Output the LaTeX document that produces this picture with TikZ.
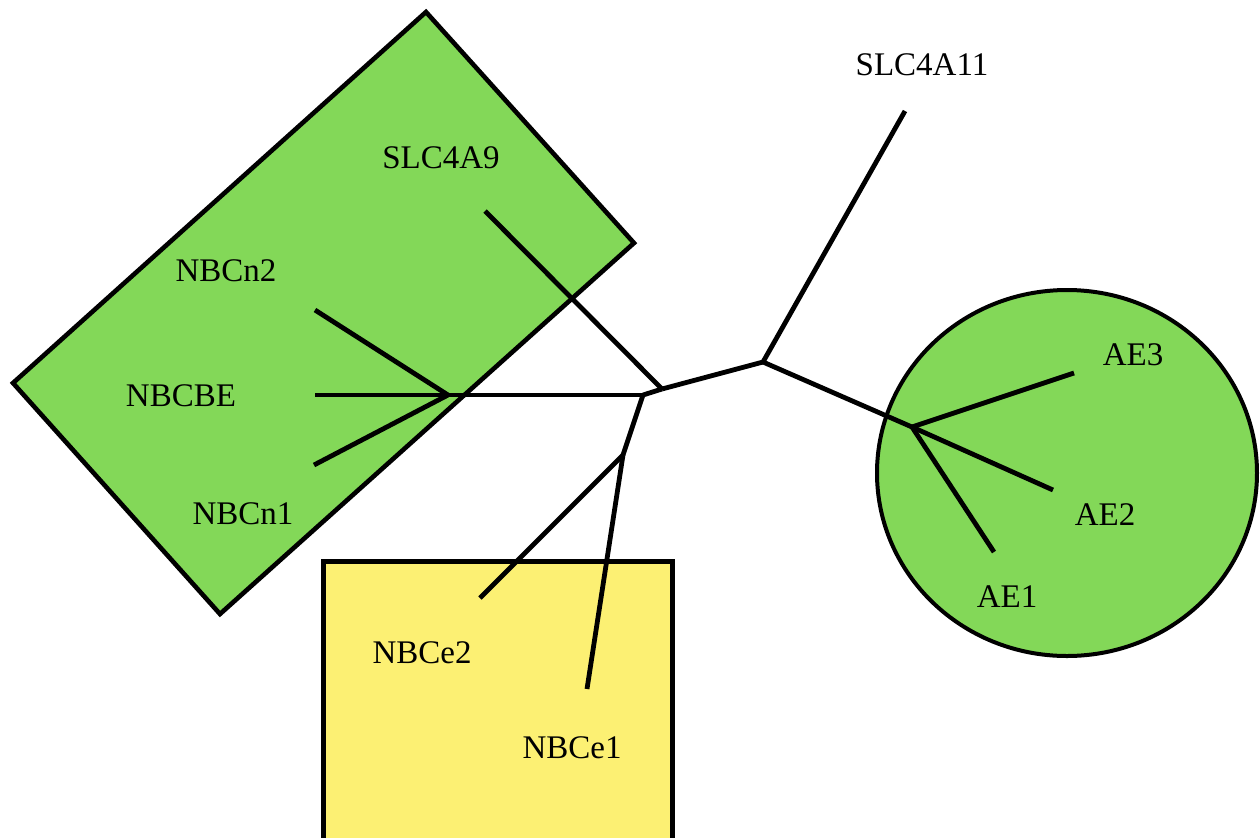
\documentclass[tikz,border=0pt]{standalone}
\usepackage{fontspec}
\setmainfont{Liberation Serif}
\definecolor{leafgreen}{RGB}{131,216,88}
\definecolor{boxyellow}{RGB}{252,240,115}
\begin{document}
\begin{tikzpicture}[x=0.5pt,y=-0.5pt,
  branch/.style={line width=2.4pt,black},
  groupbox/.style={line width=2.3pt,draw=black},
  lbl/.style={font=\fontsize{16.5}{20}\selectfont,inner sep=0pt,anchor=center}]
\useasboundingbox (0,0) rectangle (1260,837);
\clip (0,0) rectangle (1260,837);
% groups
\draw[groupbox,fill=leafgreen] (426,12) -- (634,243) -- (220,614) -- (13,383) -- cycle;
\draw[groupbox,line width=2pt,fill=leafgreen] (1067,473) ellipse [x radius=190, y radius=183];
\draw[groupbox,line width=2.5pt,fill=boxyellow] (323,561) rectangle (672,850);
% junctions
\coordinate (A) at (662,389);
\coordinate (B) at (763,362);
\coordinate (C) at (643,395);
\coordinate (D) at (448,395);
\coordinate (E) at (623,455);
\coordinate (F) at (912,427);
% leaf ends
\coordinate (l9) at (485,211);
\coordinate (l11) at (905,111);
\coordinate (ln2) at (315,310);
\coordinate (lbe) at (315,395);
\coordinate (ln1) at (314,465);
\coordinate (le2) at (480,598);
\coordinate (le1) at (587,689);
\coordinate (la3) at (1074,373);
\coordinate (la2) at (1053,490);
\coordinate (la1) at (994,552);
% tree
\draw[branch] (l9) -- (A);
\draw[branch] (A) -- (B);
\draw[branch] (B) -- (l11);
\draw[branch] (B) -- (F);
\draw[branch] (A) -- (C);
\draw[branch] (C) -- (D);
\draw[branch] (D) -- (lbe);
\draw[branch] (D) -- (ln2);
\draw[branch] (D) -- (ln1);
\draw[branch] (C) -- (E);
\draw[branch] (E) -- (le2);
\draw[branch] (E) -- (le1);
\draw[branch] (F) -- (la3);
\draw[branch] (F) -- (la2);
\draw[branch] (F) -- (la1);
% labels
\node[lbl] (tSLC4A11) at (922,65) {SLC4A11};
\node[lbl] (tSLC4A9) at (441,158) {SLC4A9};
\node[lbl] (tNBCn2) at (226,271) {NBCn2};
\node[lbl] (tNBCBE) at (181,396) {NBCBE};
\node[lbl] (tNBCn1) at (243,514) {NBCn1};
\node[lbl] (tNBCe2) at (422,653) {NBCe2};
\node[lbl] (tNBCe1) at (572,748) {NBCe1};
\node[lbl] (tAE3) at (1133,355) {AE3};
\node[lbl] (tAE2) at (1105,515) {AE2};
\node[lbl] (tAE1) at (1007,597) {AE1};
\end{tikzpicture}
\end{document}
